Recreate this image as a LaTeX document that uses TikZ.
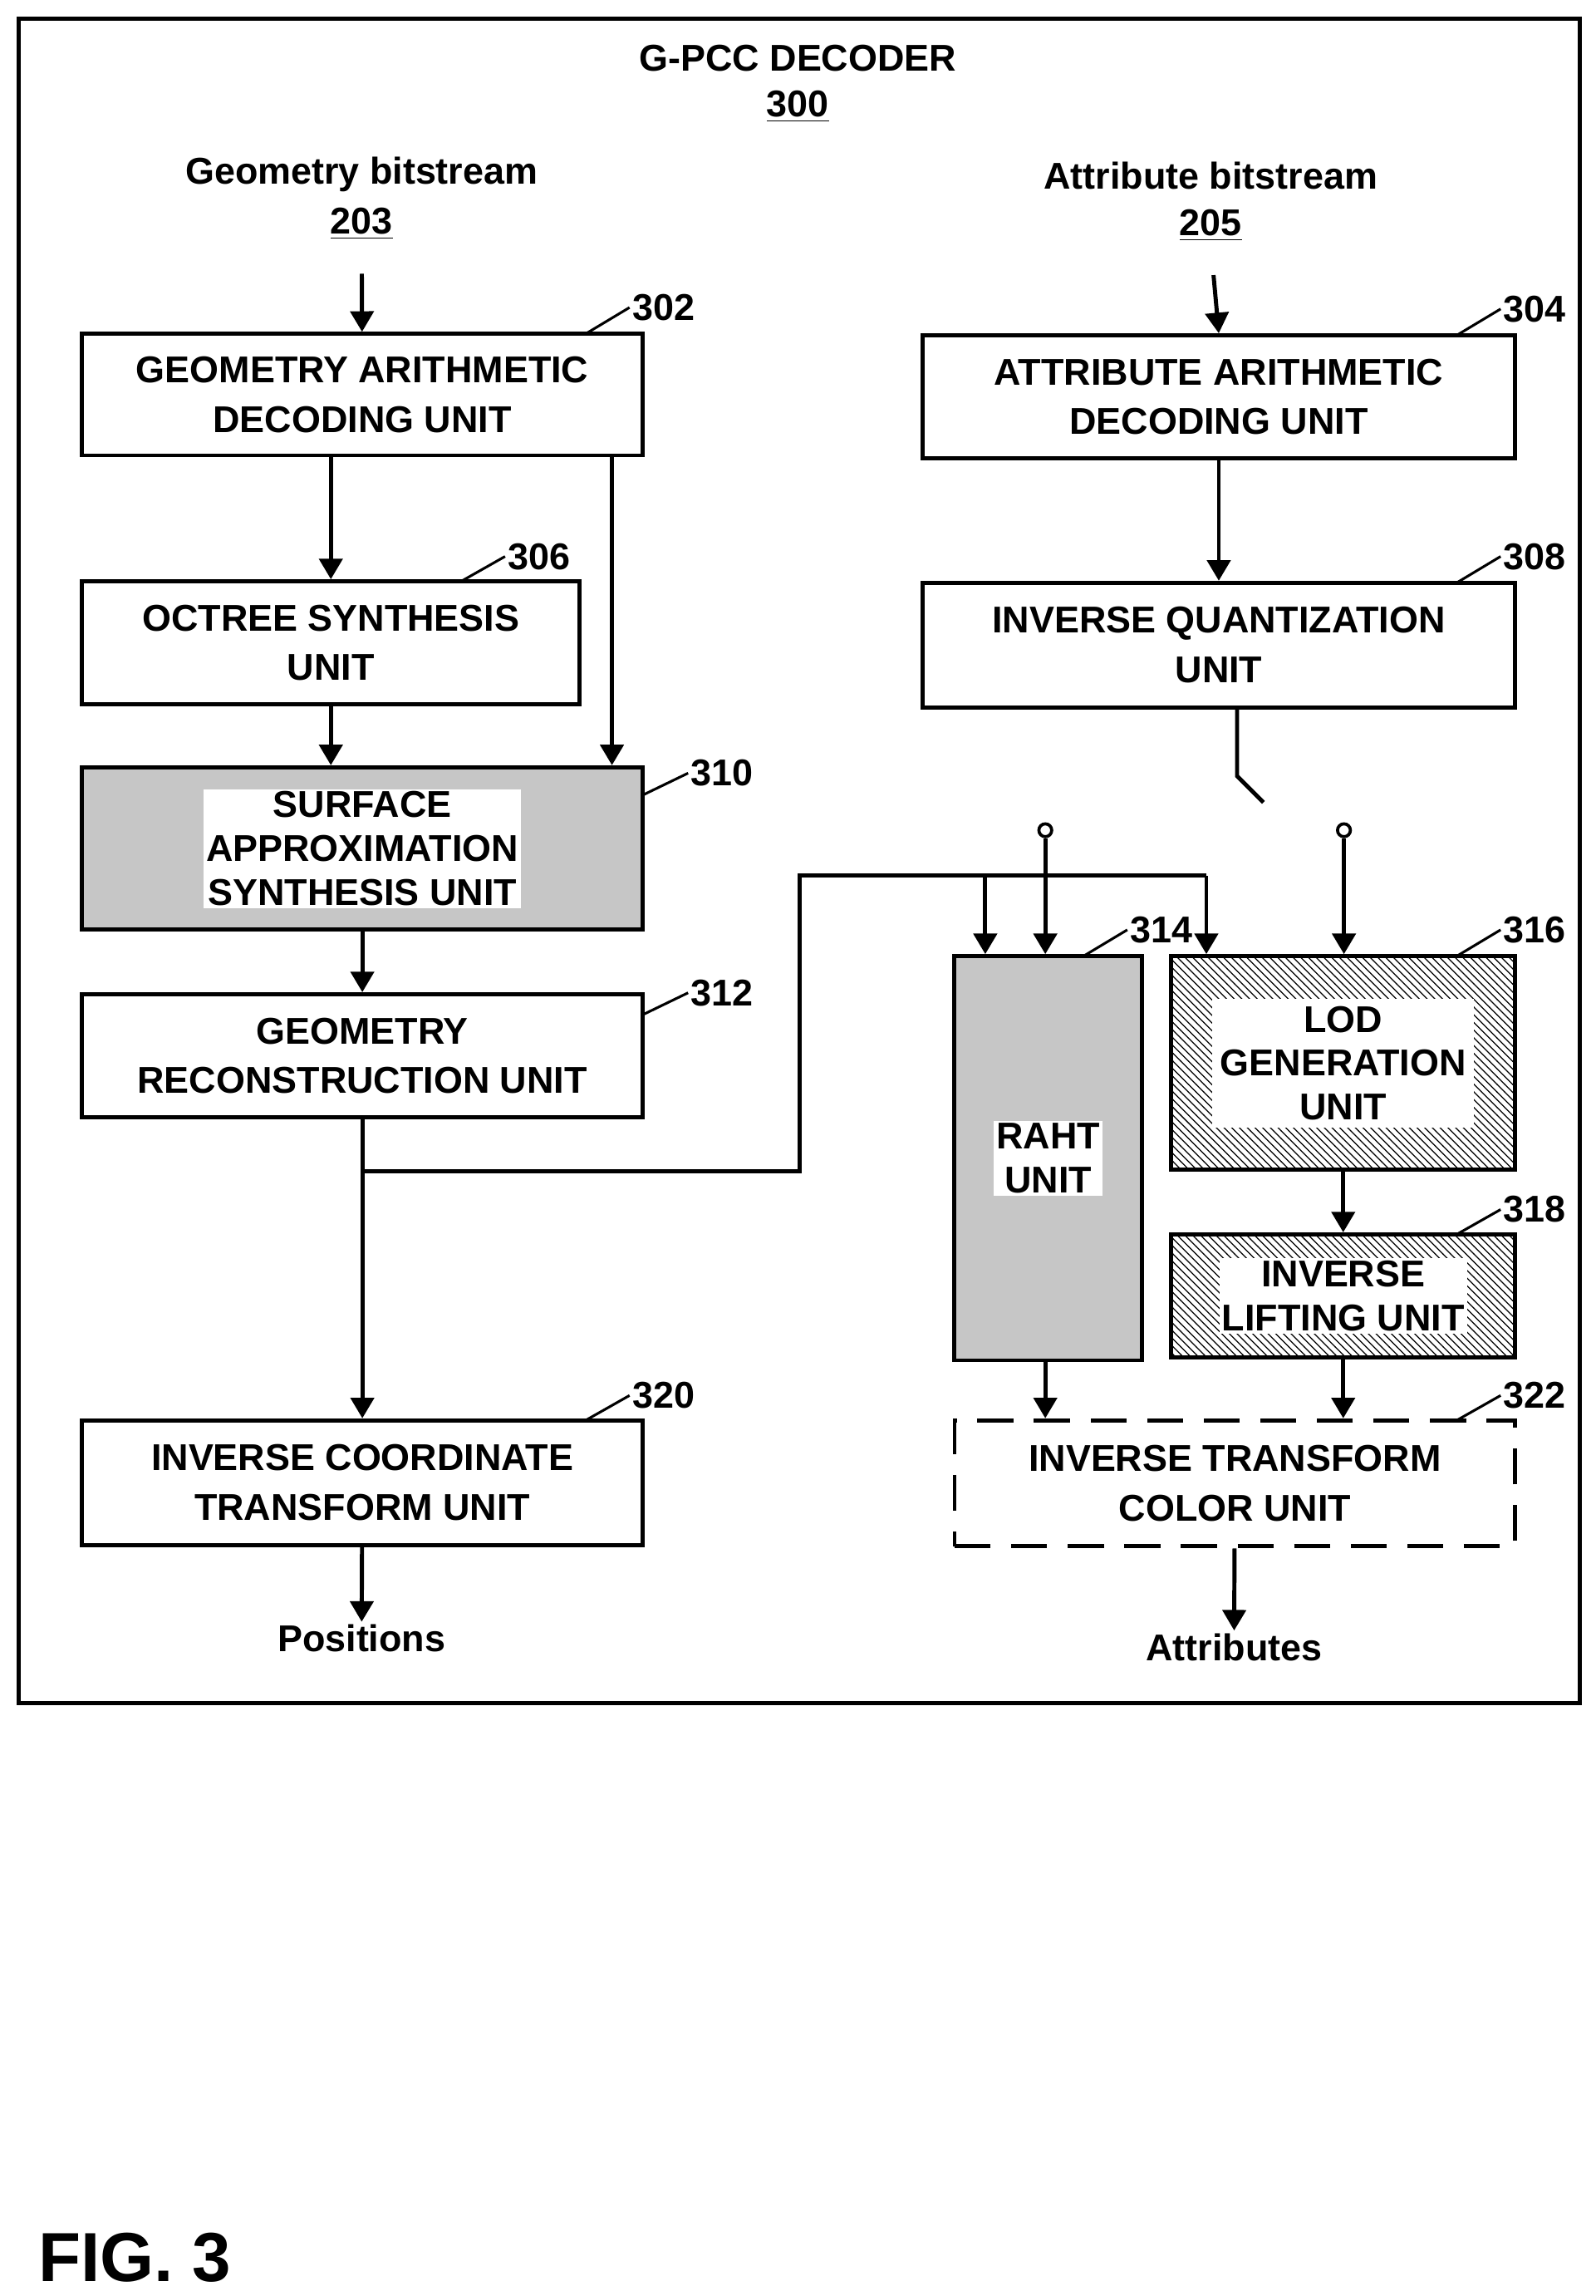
\documentclass[tikz,border=0pt]{standalone}
\usepackage{fontspec}
\setmainfont{Liberation Sans}
\usetikzlibrary{patterns,arrows.meta}
\tikzset{
  unit/.style={draw,line width=1.6pt,align=center,inner sep=0pt,font=\fontsize{14.5}{19.3}\selectfont\bfseries},
  lbl/.style={font=\fontsize{14.5}{17}\selectfont\bfseries,inner sep=1pt},
  arr/.style={line width=1.6pt,-{Triangle[length=8pt,width=9pt]}},
  wire/.style={line width=1.6pt},
  term/.style={circle,draw,fill=white,line width=1.2pt,inner sep=0pt,minimum size=5pt}
}
\begin{document}
\begin{tikzpicture}[x=0.02cm,y=-0.02cm]
\useasboundingbox (0,0) rectangle (1090,1568);
\draw[line width=1.6pt] (13,13) rectangle (1079,1163);

\node[lbl] (title) at (545,40) {G-PCC DECODER};
\node[lbl] (n300) at (545,73) {\underline{300}};
\node[lbl] (geo) at (247,119) {Geometry bitstream};
\node[lbl] (n203) at (247,153) {\underline{203}};
\node[lbl] (att) at (827,120) {Attribute bitstream};
\node[lbl] (n205) at (827,154) {\underline{205}};

% geometry side
\node[unit,minimum width=7.66cm,minimum height=1.66cm] (gad) at (247.5,269.5) {GEOMETRY ARITHMETIC\\DECODING UNIT};
\node[unit,minimum width=6.8cm,minimum height=1.68cm] (oct) at (226,439) {OCTREE SYNTHESIS\\UNIT};
\node[unit,minimum width=7.66cm,minimum height=2.22cm,fill=gray!45] (sas) at (247.5,579.5) {};
\node[lbl,fill=white,align=center,font=\fontsize{14.5}{17}\selectfont\bfseries] (sastxt) at (sas) {SURFACE\\APPROXIMATION\\SYNTHESIS UNIT};
\node[unit,minimum width=7.66cm,minimum height=1.68cm] (grc) at (247.5,721) {GEOMETRY\\RECONSTRUCTION UNIT};
\node[unit,minimum width=7.66cm,minimum height=1.7cm] (ict) at (247.5,1012.5) {INVERSE COORDINATE\\TRANSFORM UNIT};
\node[lbl] (pos) at (247,1119) {Positions};

% attribute side
\node[unit,minimum width=8.1cm,minimum height=1.68cm] (aad) at (832.5,271) {ATTRIBUTE ARITHMETIC\\DECODING UNIT};
\node[unit,minimum width=8.1cm,minimum height=1.7cm] (iq) at (832.5,440.5) {INVERSE QUANTIZATION\\UNIT};
\node[unit,minimum width=2.56cm,minimum height=5.52cm,fill=gray!45] (raht) at (716,791) {};
\node[lbl,fill=white,align=center] (rahttxt) at (raht) {RAHT\\UNIT};
\node[unit,minimum width=4.7cm,minimum height=2.92cm,pattern=north west lines] (lod) at (917.5,726) {};
\node[lbl,fill=white,align=center,inner sep=3pt] (lodtxt) at (lod) {LOD\\GENERATION\\UNIT};
\node[unit,minimum width=4.7cm,minimum height=1.68cm,pattern=north west lines] (ilu) at (917.5,885) {};
\node[lbl,fill=white,align=center] (ilutxt) at (ilu) {INVERSE\\LIFTING UNIT};
\node[unit,minimum width=7.66cm,minimum height=1.72cm,dashed,dash pattern=on 14pt off 8pt] (itc) at (843.5,1013) {INVERSE TRANSFORM\\COLOR UNIT};
\node[lbl] (attr) at (843,1125) {Attributes};

% reference numerals
\foreach \nm/\x/\y/\bx/\by in {302/430/210/400/228, 304/1025/211/995/229, 306/345/380/315/397,
  308/1025/380/995/398, 310/470/528/439/543, 312/470/678/439/693, 314/770/635/740/653,
  316/1025/635/995/653, 318/1025/826/995/843, 320/430/953/400/970, 322/1025/953/995/970}
{
  \node[lbl,anchor=west] (r\nm) at (\x,\y) {\nm};
  \draw[line width=1pt] (\bx,\by) -- (r\nm.west);
}

% connectors
\draw[arr,shorten <=12pt] (n203) -- (gad);
\draw[arr,shorten <=12pt] (n205.south) -- (aad.north);
\draw[arr] (gad.south -| oct) -- (oct);
\draw[arr] (gad.south -| 418,0) -- (sas.north -| 418,0);
\draw[arr] (oct) -- (sas.north -| oct);
\draw[arr] (sas) -- (grc);
\draw[arr] (grc) -- (ict);
\draw[arr] (aad) -- (iq);
\draw[arr] (ict) -- (pos);
\draw[arr] (itc) -- (attr.north);

\coordinate (jn) at (247,800);
\coordinate (up) at (546,598);
\coordinate (brr) at (673,598);
\coordinate (brl) at (824,598);
\draw[wire] (jn) -- (up |- jn) -- (up) -- (brl);
\draw[arr] (brr) -- (raht.north -| brr);
\draw[arr] (brl) -- (lod.north -| brl);

\coordinate (swa) at (845,530);
\coordinate (swb) at (863,548);
\draw[wire] (iq.south -| swa) -- (swa) -- (swb);
\node[term] (t1) at (714,567) {};
\node[term] (t2) at (918,567) {};
\draw[arr] (t1) -- (raht.north -| t1);
\draw[arr] (t2) -- (lod.north -| t2);

\draw[arr] (lod.south -| ilu) -- (ilu);
\draw[arr] (raht.south -| t1) -- (itc.north -| t1);
\draw[arr] (ilu) -- (itc.north -| ilu);

\node[font=\fontsize{27}{30}\selectfont\bfseries,anchor=west] (fig) at (20,1542) {FIG. 3};
\end{tikzpicture}
\end{document}
